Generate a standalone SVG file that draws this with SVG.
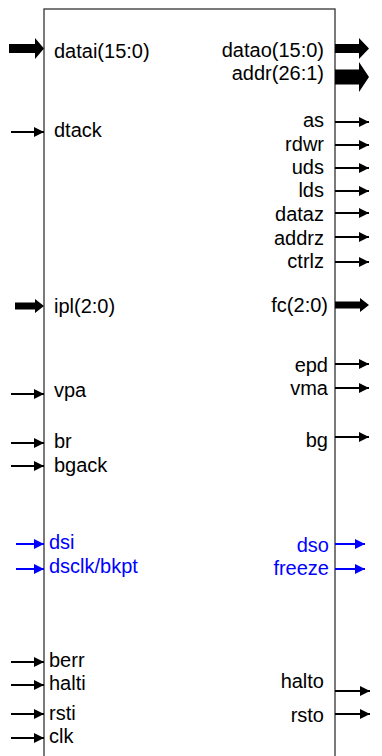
<svg xmlns="http://www.w3.org/2000/svg" width="382" height="756" viewBox="0 0 382 756">
<style>
.t{font-family:"Liberation Sans",Arial,sans-serif;font-size:20px;fill:#000}
.b{fill:#0000ff}
.r{text-anchor:end}
.w{stroke:#000;stroke-width:2;fill:none}
.wb{stroke:#0000ff;stroke-width:2;fill:none}
.bus{fill:#000;stroke:none}
</style>
<defs>
<marker id="ah" markerUnits="userSpaceOnUse" markerWidth="10" markerHeight="10" refX="10" refY="5" orient="auto"><path d="M0,0 L10,5 L0,10 z" fill="#000"/></marker>
<marker id="ahb" markerUnits="userSpaceOnUse" markerWidth="10" markerHeight="10" refX="10" refY="5" orient="auto"><path d="M0,0 L10,5 L0,10 z" fill="#0000ff"/></marker>
</defs>
<g id="block">
<rect x="44" y="9" width="291" height="770" fill="#fff" stroke="#333" stroke-width="1.3"/>
</g>
<g id="connectors">
<polygon class="bus" points="9,44 35,44 35,38 44,48.5 35,59 35,53 9,53"/>
<line class="w" x1="11" y1="132" x2="44" y2="132" marker-end="url(#ah)"/>
<polygon class="bus" points="15,302.5 35,302.5 35,299 44,306 35,313 35,309.5 15,309.5"/>
<line class="w" x1="11" y1="394" x2="44" y2="394" marker-end="url(#ah)"/>
<line class="w" x1="11" y1="443" x2="44" y2="443" marker-end="url(#ah)"/>
<line class="w" x1="11" y1="466" x2="44" y2="466" marker-end="url(#ah)"/>
<line class="wb" x1="16" y1="544" x2="44" y2="544" marker-end="url(#ahb)"/>
<line class="wb" x1="16" y1="569" x2="44" y2="569" marker-end="url(#ahb)"/>
<line class="w" x1="11" y1="662" x2="44" y2="662" marker-end="url(#ah)"/>
<line class="w" x1="11" y1="685" x2="44" y2="685" marker-end="url(#ah)"/>
<line class="w" x1="11" y1="714" x2="44" y2="714" marker-end="url(#ah)"/>
<line class="w" x1="11" y1="738" x2="44" y2="738" marker-end="url(#ah)"/>

<polygon class="bus" points="335,44 359,44 359,38 369,48.5 359,59 359,53 335,53"/>
<polygon class="bus" points="335,69.5 359,69.5 359,62 369,77 359,92 359,84.5 335,84.5"/>
<line class="w" x1="335" y1="122" x2="369" y2="122" marker-end="url(#ah)"/>
<line class="w" x1="335" y1="145" x2="369" y2="145" marker-end="url(#ah)"/>
<line class="w" x1="335" y1="168" x2="369" y2="168" marker-end="url(#ah)"/>
<line class="w" x1="335" y1="191" x2="369" y2="191" marker-end="url(#ah)"/>
<line class="w" x1="335" y1="213" x2="369" y2="213" marker-end="url(#ah)"/>
<line class="w" x1="335" y1="237" x2="369" y2="237" marker-end="url(#ah)"/>
<line class="w" x1="335" y1="262" x2="369" y2="262" marker-end="url(#ah)"/>
<polygon class="bus" points="335,301.5 360,301.5 360,298 369,305 360,312 360,308.5 335,308.5"/>
<line class="w" x1="335" y1="364" x2="369" y2="364" marker-end="url(#ah)"/>
<line class="w" x1="335" y1="388" x2="369" y2="388" marker-end="url(#ah)"/>
<line class="w" x1="335" y1="437" x2="369" y2="437" marker-end="url(#ah)"/>
<line class="wb" x1="335" y1="544" x2="365" y2="544" marker-end="url(#ahb)"/>
<line class="wb" x1="335" y1="569" x2="365" y2="569" marker-end="url(#ahb)"/>
<line class="w" x1="335" y1="691" x2="370" y2="691" marker-end="url(#ah)"/>
<line class="w" x1="335" y1="714" x2="370" y2="714" marker-end="url(#ah)"/>
</g>
<g id="inputs">
<text class="t" x="54" y="58">datai(15:0)</text>
<text class="t" x="54" y="137">dtack</text>
<text class="t" x="54" y="313">ipl(2:0)</text>
<text class="t" x="54" y="397">vpa</text>
<text class="t" x="54" y="448">br</text>
<text class="t" x="54" y="472">bgack</text>
<text class="t b" x="49" y="549">dsi</text>
<text class="t b" x="49" y="573">dsclk/bkpt</text>
<text class="t" x="49" y="667">berr</text>
<text class="t" x="49" y="690">halti</text>
<text class="t" x="49" y="720">rsti</text>
<text class="t" x="49" y="743">clk</text>
</g>
<g id="outputs">
<text class="t r" x="324" y="57">datao(15:0)</text>
<text class="t r" x="324" y="80">addr(26:1)</text>
<text class="t r" x="324" y="127">as</text>
<text class="t r" x="324" y="151">rdwr</text>
<text class="t r" x="324" y="174">uds</text>
<text class="t r" x="324" y="197">lds</text>
<text class="t r" x="324" y="221">dataz</text>
<text class="t r" x="324" y="245">addrz</text>
<text class="t r" x="324" y="268">ctrlz</text>
<text class="t r" x="328" y="312">fc(2:0)</text>
<text class="t r" x="328" y="372">epd</text>
<text class="t r" x="328" y="395">vma</text>
<text class="t r" x="328" y="447">bg</text>
<text class="t r b" x="329" y="552">dso</text>
<text class="t r b" x="329" y="575">freeze</text>
<text class="t r" x="324" y="688">halto</text>
<text class="t r" x="324" y="722">rsto</text>
</g>
</svg>
